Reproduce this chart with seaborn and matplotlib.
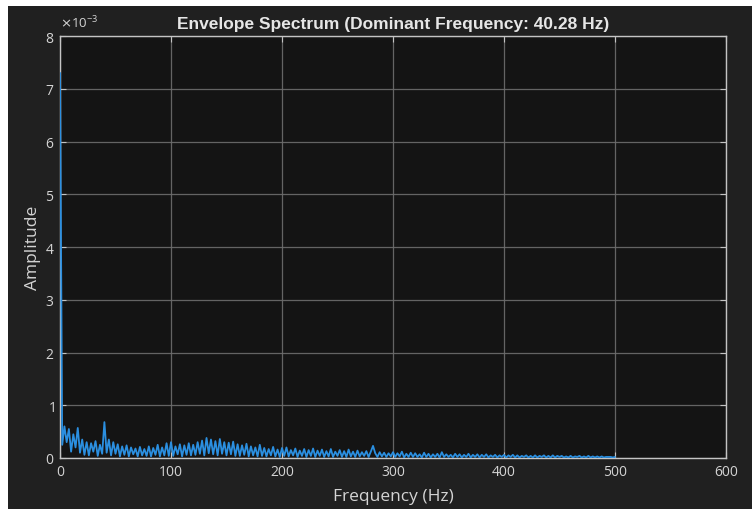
import numpy as np
import pandas as pd
import seaborn as sns
from matplotlib import pyplot as plt
from matplotlib.patches import Rectangle
from matplotlib.ticker import ScalarFormatter

# envelope spectrum (amplitude in units of 1e-3), 2 Hz steps
freq_hz = list(range(0, 502, 2))
amp_e3 = [
    7.30, 0.25, 0.60, 0.30, 0.55, 0.12, 0.45, 0.20, 0.57, 0.10,   # 0-18
    0.35, 0.06, 0.30, 0.05, 0.28, 0.12, 0.32, 0.04, 0.25, 0.08,   # 20-38
    0.68, 0.10, 0.35, 0.05, 0.30, 0.08, 0.26, 0.03, 0.22, 0.06,   # 40-58
    0.24, 0.03, 0.20, 0.07, 0.18, 0.03, 0.21, 0.05, 0.17, 0.04,   # 60-78
    0.22, 0.03, 0.19, 0.06, 0.25, 0.03, 0.20, 0.05, 0.28, 0.04,   # 80-98
    0.30, 0.04, 0.22, 0.07, 0.26, 0.03, 0.24, 0.06, 0.28, 0.05,   # 100-118
    0.25, 0.06, 0.30, 0.08, 0.33, 0.05, 0.38, 0.09, 0.35, 0.07,   # 120-138
    0.32, 0.05, 0.36, 0.08, 0.30, 0.05, 0.29, 0.07, 0.31, 0.04,   # 140-158
    0.26, 0.04, 0.24, 0.06, 0.27, 0.03, 0.22, 0.05, 0.20, 0.03,   # 160-178
    0.25, 0.04, 0.19, 0.03, 0.17, 0.05, 0.21, 0.03, 0.16, 0.02,   # 180-198
    0.19, 0.04, 0.20, 0.03, 0.15, 0.05, 0.18, 0.02, 0.14, 0.04,   # 200-218
    0.17, 0.02, 0.15, 0.04, 0.18, 0.02, 0.14, 0.04, 0.16, 0.02,   # 220-238
    0.13, 0.03, 0.17, 0.02, 0.12, 0.04, 0.15, 0.02, 0.13, 0.02,   # 240-258
    0.16, 0.03, 0.12, 0.02, 0.14, 0.03, 0.11, 0.04, 0.13, 0.02,   # 260-278
    0.12, 0.23, 0.09, 0.02, 0.11, 0.03, 0.10, 0.02, 0.09, 0.03,   # 280-298
    0.11, 0.02, 0.09, 0.03, 0.12, 0.01, 0.08, 0.02, 0.10, 0.02,   # 300-318
    0.09, 0.02, 0.07, 0.01, 0.10, 0.02, 0.08, 0.01, 0.07, 0.02,   # 320-338
    0.08, 0.01, 0.11, 0.02, 0.07, 0.02, 0.06, 0.01, 0.08, 0.02,   # 340-358
    0.07, 0.01, 0.06, 0.02, 0.08, 0.01, 0.06, 0.02, 0.07, 0.01,   # 360-378
    0.06, 0.02, 0.07, 0.01, 0.05, 0.02, 0.06, 0.01, 0.05, 0.02,   # 380-398
    0.06, 0.01, 0.05, 0.02, 0.06, 0.01, 0.05, 0.01, 0.04, 0.02,   # 400-418
    0.05, 0.01, 0.04, 0.01, 0.05, 0.01, 0.04, 0.02, 0.05, 0.01,   # 420-438
    0.04, 0.01, 0.05, 0.01, 0.04, 0.02, 0.04, 0.01, 0.03, 0.01,   # 440-458
    0.04, 0.01, 0.03, 0.02, 0.04, 0.01, 0.03, 0.01, 0.04, 0.01,   # 460-478
    0.03, 0.01, 0.03, 0.01, 0.03, 0.01, 0.02, 0.02, 0.02, 0.01,   # 480-498
    0.02,                                                         # 500
]
dominant_hz = 40.28

x_ticks = [0, 100, 200, 300, 400, 500, 600]
y_ticks_e3 = [0, 1, 2, 3, 4, 5, 6, 7, 8]

FIG_BG = "#202020"
AX_BG = "#141414"
FG = "#d4d4d4"
LINE_COLOR = "#2b8fe0"

sns.set_theme(style="dark")
plt.rcParams["font.family"] = ["Open Sans", "DejaVu Sans"]
plt.rcParams["axes.unicode_minus"] = True

df = pd.DataFrame({"freq": freq_hz, "amp": np.array(amp_e3) * 1e-3})

fig = plt.figure(figsize=(7.52, 5.10), dpi=100, facecolor="white")
# dark figure area with a thin white strip on top and left, as in the screenshot
fig.patches.append(Rectangle((8 / 752, 0), 1 - 8 / 752, 1 - 7 / 510,
                             transform=fig.transFigure, facecolor=FIG_BG,
                             edgecolor="none", zorder=-10))
ax = fig.add_axes([60 / 752, 51 / 510, 666 / 752, 422 / 510])
ax.set_facecolor(AX_BG)

sns.lineplot(data=df, x="freq", y="amp", ax=ax, color=LINE_COLOR,
             linewidth=1.3, estimator=None, zorder=3)

ax.set_xlim(0, 600)
ax.set_ylim(0, 8e-3)
ax.set_xticks(x_ticks)
ax.set_yticks(np.array(y_ticks_e3) * 1e-3)

fmt = ScalarFormatter(useMathText=True)
fmt.set_powerlimits((-2, 2))
ax.yaxis.set_major_formatter(fmt)
ax.yaxis.OFFSETTEXTPAD = 6
ax.yaxis.get_offset_text().set_color(FG)
ax.yaxis.get_offset_text().set_fontsize(9.5)

ax.grid(True, color="#6e6e6e", linewidth=0.9, alpha=0.9, zorder=0)
for s in ax.spines.values():
    s.set_color("#c4c4c4")
    s.set_linewidth(1.0)
    s.set_visible(True)
ax.tick_params(axis="both", which="both", direction="in", length=4,
               width=0.8, color="#c4c4c4", labelcolor=FG, labelsize=10,
               top=True, right=True, bottom=True, left=True, pad=4)

ax.set_title("Envelope Spectrum (Dominant Frequency: %.2f Hz)" % dominant_hz,
             color="#e6e6e6", fontsize=12.5, fontweight="bold",
             family=["Liberation Sans", "DejaVu Sans"], pad=6)
ax.set_xlabel("Frequency (Hz)", color=FG, fontsize=12.5, labelpad=7)
ax.set_ylabel("Amplitude", color=FG, fontsize=12.5, labelpad=3)

plt.savefig("out.png", dpi=100, facecolor=fig.get_facecolor())
